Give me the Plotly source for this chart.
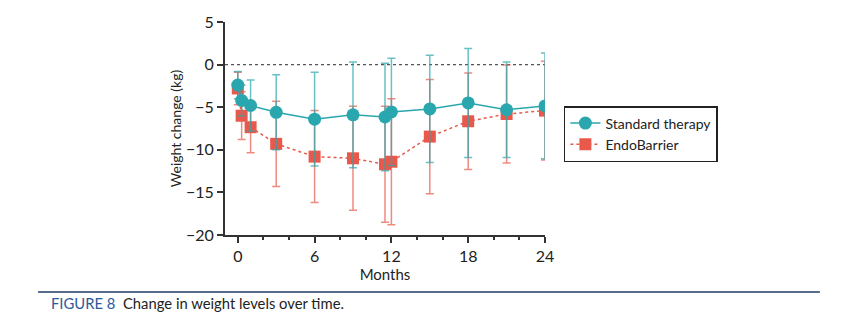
import plotly.graph_objects as go

months = [0, 0.3, 1, 3, 6, 9, 11.5, 12, 15, 18, 21, 24]
std_mean = [-2.4, -4.2, -4.8, -5.6, -6.4, -5.9, -6.15, -5.55, -5.2, -4.5, -5.3, -4.85]
std_err = [1.6, 1.8, 3.0, 4.4, 5.5, 6.2, 6.3, 6.3, 6.3, 6.4, 5.6, 6.2]
endo_mean = [-2.8, -6.0, -7.35, -9.3, -10.8, -11.0, -11.7, -11.4, -8.45, -6.65, -5.8, -5.4]
endo_err = [1.9, 2.8, 3.0, 5.0, 5.4, 6.1, 6.8, 7.4, 6.7, 5.65, 5.75, 5.8]

x_ticks = [0, 6, 12, 18, 24]
y_ticks = [5, 0, -5, -10, -15, -20]

TEAL = "#2aa7ae"
RED = "#e8594c"
FONT = "Lato"

fig = go.Figure()

fig.add_trace(go.Scatter(
    x=months, y=endo_mean, name="EndoBarrier", mode="lines+markers",
    line=dict(color=RED, width=1.5, dash="3px,3px"),
    marker=dict(symbol="square", size=12, color=RED),
    error_y=dict(type="data", array=endo_err, color="rgba(232,89,76,0.7)", thickness=1.5, width=4),
    legendrank=2,
))
fig.add_trace(go.Scatter(
    x=months, y=std_mean, name="Standard therapy", mode="lines+markers",
    line=dict(color=TEAL, width=1.5),
    marker=dict(symbol="circle", size=13, color=TEAL),
    error_y=dict(type="data", array=std_err, color="rgba(42,167,174,0.7)", thickness=1.5, width=4),
    legendrank=1,
))

fig.add_shape(type="line", xref="x", yref="y", x0=-1, x1=24, y0=0, y1=0,
              line=dict(color="#555", width=1.2, dash="dot"), layer="below")

# caption rule and text
fig.add_shape(type="line", xref="paper", yref="paper", x0=-0.584, x1=1.859,
              y0=-0.2676, y1=-0.2676, line=dict(color="#1f3a68", width=1.5))
fig.add_annotation(xref="paper", yref="paper", x=-0.55, y=-0.319, xanchor="left", yanchor="middle",
                   text="<span style='color:#2a5a9a'>FIGURE 8</span>  Change in weight levels over time.",
                   showarrow=False, font=dict(family=FONT, size=14.8, color="#222"))

fig.update_layout(
    width=856, height=331,
    margin=dict(l=225, r=311, t=22, b=96),
    paper_bgcolor="white", plot_bgcolor="white",
    font=dict(family=FONT, size=15, color="#222"),
    legend=dict(x=1.059, y=0.6056, xanchor="left", yanchor="top",
                bordercolor="#222", borderwidth=1.5, bgcolor="white",
                font=dict(family=FONT, size=14, color="#222"),
                tracegroupgap=0, itemwidth=30),
    xaxis=dict(range=[-1, 24], tickvals=x_ticks, ticktext=[str(v) for v in x_ticks],
               showgrid=False, zeroline=False, showline=True, linecolor="#333", linewidth=2,
               ticks="outside", ticklen=6, tickwidth=2, tickcolor="#333",
               minor=dict(tickvals=[2, 4, 8, 10, 14, 16, 20, 22], ticks="outside", ticklen=3, tickwidth=1.5, tickcolor="#333"),
               title=dict(text="Months", font=dict(family=FONT, size=15), standoff=2),
               tickfont=dict(family=FONT, size=16)),
    yaxis=dict(range=[-20, 5], tickvals=y_ticks, showgrid=False, zeroline=False,
               showline=True, linecolor="#333", linewidth=2,
               ticks="outside", ticklen=6, tickwidth=2, tickcolor="#333",
               title=dict(text="Weight change (kg)", font=dict(family=FONT, size=14), standoff=1),
               tickfont=dict(family=FONT, size=16)),
)

fig.write_html("out.html")
